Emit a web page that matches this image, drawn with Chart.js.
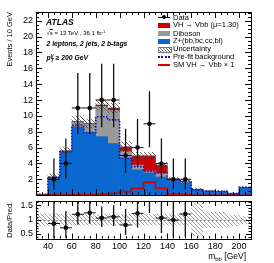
<!DOCTYPE html>
<html>
<head>
<meta charset="utf-8">
<script src="https://cdn.jsdelivr.net/npm/chart.js@4.4.1/dist/chart.umd.min.js"></script>
<style>
body { margin: 0; background: #fff; font-family: 'Liberation Sans', Arial, sans-serif; }
#wrap { position: relative; width: 274px; height: 263px; overflow: hidden; }
canvas { position: absolute; left: 0; }
.t { position: absolute; white-space: nowrap; color: #000; line-height: 1; }
.bi { font-weight: bold; font-style: italic; }
.lg { position: absolute; left: 173px; font-size: 7.5px; line-height: 1; white-space: nowrap; color: #000; }
.sym { position: absolute; left: 158px; width: 12px; }
.sub { font-size: 70%; position: relative; top: 0.35em; }
.sup { font-size: 70%; position: relative; top: -0.45em; }
</style>
</head>
<body>
<div id="wrap">
  <canvas id="main" width="274" height="200" style="top:0"></canvas>
  <canvas id="ratio" width="274" height="66" style="top:197px"></canvas>

  <!-- labels in the upper left -->
  <div class="t bi" style="left:46px;top:18px;font-size:8.5px">ATLAS</div>
  <div class="t" style="left:46.5px;top:30px;font-size:6px">√<span style="text-decoration:overline">s</span> = 13 TeV , 36.1 fb<span class="sup">-1</span></div>
  <div class="t bi" style="left:46.5px;top:41px;font-size:6.8px">2 leptons, 2 jets, 2 b-tags</div>
  <div class="t bi" style="left:46.5px;top:55px;font-size:6.8px">p<span class="sub">T</span><span class="sup" style="margin-left:-3px">V</span> ≥ 200 GeV</div>

  <!-- legend -->
  <div class="sym" style="top:17px;height:1px;background:#000"></div>
  <div class="sym" style="top:15.3px;left:162px;width:4px;height:4px;border-radius:50%;background:#000"></div>
  <div class="lg" style="top:13.5px">Data</div>
  <div class="sym" style="top:22.5px;height:5px;background:#cc0000"></div>
  <div class="lg" style="top:21.2px">VH → Vbb (μ=1.30)</div>
  <div class="sym" style="top:30.5px;height:5px;background:#999999"></div>
  <div class="lg" style="top:29.5px">Diboson</div>
  <div class="sym" style="top:38.5px;height:5px;background:#0a68cf"></div>
  <div class="lg" style="top:37.2px">Z+(bb,bc,cc,bl)</div>
  <div class="sym" style="top:46.5px;height:4px;border:0.5px solid #777;background:repeating-linear-gradient(45deg,#fff 0 1.2px,#777 1.2px 2px)"></div>
  <div class="lg" style="top:45.2px">Uncertainty</div>
  <div class="sym" style="top:56px;height:0;border-top:2px dotted #1010c0"></div>
  <div class="lg" style="top:53.2px">Pre-fit background</div>
  <div class="sym" style="top:64px;height:2px;background:#d40000"></div>
  <div class="lg" style="top:61.2px">SM VH → Vbb × 1</div>

  <!-- lowest ratio label, the canvas one does not show at this panel height -->
  <div class="t" style="right:241px;top:228.8px;font-size:9px">0.5</div>

  <div class="t" style="right:28px;top:252px;font-size:8.5px">m<span class="sub">bb</span> [GeV]</div>
</div>

<script>
// bins of 10 GeV from 30 to 210 (centres)
const binCenters = [35, 45, 55, 65, 75, 85, 95, 105, 115, 125, 135, 145, 155, 165, 175, 185, 195, 205];

// post-fit stack, events per bin
const zJets   = [0.1, 2.25, 5.5, 8.6, 7.9, 7.4, 6.5, 4.65, 3.2, 2.8, 2.3, 1.85, 1.55, 0.74, 0.53, 0.5, 0.24, 1.0];
const diboson = [0, 0.05, 0.1, 0.65, 1.1, 3.8, 4.2, 0.85, 0.6, 0.25, 0.45, 0.05, 0.1, 0, 0, 0, 0, 0];
const vhFit   = [0, 0, 0, 0.05, 0.05, 0.15, 0.3, 0.6, 1.15, 1.9, 1.05, 0.15, 0.05, 0, 0, 0, 0, 0];

// overlaid lines
const vhSM   = [0, 0.02, 0.03, 0.05, 0.05, 0.12, 0.25, 0.45, 0.87, 1.62, 0.87, 0.12, 0.05, 0, 0, 0, 0, 0];
const preFit = [0.1, 2.25, 5.5, 8.8, 7.9, 9.9, 9.5, 4.65, 3.6, 3.0, 2.8, 1.95, 1.75, 0.7, 0.5, 0.5, 0.22, 1.0];

// uncertainty band on the total
const uncLow  = [0.05, 1.9, 5.2, 8.6, 8.5, 10.7, 10.4, 5.45, 4.5, 4.5, 3.45, 1.85, 1.5, 0.6, 0.45, 0.42, 0.18, 0.9];
const uncHigh = [0.15, 2.7, 6.0, 10.0, 9.6, 12.0, 11.6, 6.75, 5.4, 5.4, 4.15, 2.25, 1.9, 0.9, 0.62, 0.58, 0.3, 1.1];

// data
const dataX       = [45, 55, 65, 75, 85, 95, 105, 115, 125, 135, 145, 155];
const dataY       = [2, 4, 11, 11, 12, 12, 5, 6, 9, 4, 2, 2];
const dataErrDown = [1.29, 1.91, 3.28, 3.28, 3.44, 3.44, 2.16, 2.38, 2.94, 1.91, 1.29, 1.29];
const dataErrUp   = [2.64, 3.16, 4.40, 4.40, 4.57, 4.57, 3.38, 3.62, 4.11, 3.16, 2.64, 2.64];

// ratio panel
const ratioY    = [0.87, 0.72, 1.19, 1.24, 1.06, 1.1, 0.82, 1.22, 1.82, 1.06, 0.99, 1.2];
const ratioLow  = [0.31, 0.37, 0.83, 0.86, 0.75, 0.78, 0.47, 0.73, 1.23, 0.54, 0.35, 0.42];
const ratioHigh = [2.0, 1.3, 1.66, 1.71, 1.46, 1.5, 1.37, 1.94, 2.6, 1.86, 2.26, 2.7];
const ratioBandLow  = [0.78, 0.78, 0.8, 0.8, 0.8, 0.8, 0.8, 0.8, 0.8, 0.8, 0.8, 0.8, 0.8, 0.43, 0.71, 0.72, 0.78, 0.84];
const ratioBandHigh = [1.22, 1.22, 1.2, 1.2, 1.2, 1.2, 1.2, 1.2, 1.2, 1.2, 1.2, 1.2, 1.2, 1.57, 1.28, 1.28, 1.17, 1.12];

// tick labels
const xTickLabels     = ['40', '60', '80', '100', '120', '140', '160', '180', '200'];
const yTickLabels     = ['2', '4', '6', '8', '10', '12', '14', '16', '18', '20', '22'];
const ratioTickLabels = ['1', '1.5'];   // 0.5 is the html label above

Chart.defaults.font.family = "'Liberation Sans', Arial, sans-serif";
Chart.defaults.color = '#000';

/* diagonal hatch used for the uncertainty bands */
function hatch(color) {
    const c = document.createElement('canvas');
    c.width = 4; c.height = 4;
    const g = c.getContext('2d');
    g.strokeStyle = color;
    g.lineWidth = 0.9;
    g.beginPath();
    g.moveTo(0, 0); g.lineTo(4, 4);
    g.moveTo(-1, 3); g.lineTo(1, 5);
    g.moveTo(3, -1); g.lineTo(5, 1);
    g.stroke();
    return g.createPattern(c, 'repeat');
}

/* left bin edges + closing edge, for step lines */
function stepPoints(values) {
    const pts = binCenters.map((c, i) => ({x: c - 5, y: values[i]}));
    pts.push({x: binCenters[binCenters.length - 1] + 5, y: values[values.length - 1]});
    return pts;
}

/* ticks: exactly the listed labels */
const fixedTicks = labels => scale => { scale.ticks = labels.map(l => ({value: Number(l)})); };
const labelOnly = labels => v => labels.includes(String(v)) ? String(v) : '';

/* fixed axis sizes, no extra room for overhanging labels */
const fixedWidth = scale => {
    scale.width = 36;
    scale.paddingTop = 0; scale.paddingBottom = 0;
};
const fixedHeight = h => scale => {
    scale.height = h;
    scale.paddingLeft = 0; scale.paddingRight = 0;
};

/* frame with inward ticks on all four sides, ROOT style */
const frameTicks = {
    id: 'frameTicks',
    beforeDatasetsDraw(chart, args, o) {
        if (o.refLine === undefined) return;
        const {ctx, chartArea: a} = chart;
        const py = Math.round(chart.scales.y.getPixelForValue(o.refLine)) + 0.5;
        ctx.save();
        ctx.strokeStyle = '#999';
        ctx.setLineDash([2, 2]);
        ctx.beginPath(); ctx.moveTo(a.left, py); ctx.lineTo(a.right, py); ctx.stroke();
        ctx.restore();
    },
    afterDraw(chart, args, o) {
        const {ctx, chartArea: a} = chart;
        const xs = chart.scales.x, ys = chart.scales.y;
        const marks = (step, min, max) => {
            const out = [];
            const k0 = Math.ceil(min / step - 1e-6);
            for (let k = k0; k * step <= max + 1e-6; k++) out.push(k * step);
            return out;
        };
        ctx.save();
        ctx.strokeStyle = '#000';
        ctx.lineWidth = 1;
        ctx.beginPath();
        [[o.xMinor, o.minorLen], [o.xMajor, o.majorLen]].forEach(([st, len]) => {
            marks(st, xs.min, xs.max).forEach(v => {
                const px = Math.round(xs.getPixelForValue(v)) + 0.5;
                ctx.moveTo(px, a.bottom); ctx.lineTo(px, a.bottom - len);
                ctx.moveTo(px, a.top); ctx.lineTo(px, a.top + len);
            });
        });
        [[o.yMinor, o.minorLen], [o.yMajor, o.majorLen]].forEach(([st, len]) => {
            marks(st, ys.min, ys.max).forEach(v => {
                const py = Math.round(ys.getPixelForValue(v)) + 0.5;
                ctx.moveTo(a.left, py); ctx.lineTo(a.left + len, py);
                ctx.moveTo(a.right, py); ctx.lineTo(a.right - len, py);
            });
        });
        ctx.stroke();
        ctx.strokeRect(Math.round(a.left) + 0.5, Math.round(a.top) + 0.5,
                       Math.round(a.right - a.left), Math.round(a.bottom - a.top));
        ctx.restore();
    }
};

/* data error bars (vertical from lo to hi, horizontal over the bin) */
const errBars = {
    id: 'errBars',
    afterDatasetsDraw(chart, args, o) {
        if (!o.lo) return;
        const {ctx, chartArea: a} = chart;
        const xs = chart.scales.x, ys = chart.scales.y;
        ctx.save();
        ctx.beginPath();
        ctx.rect(a.left, a.top, a.right - a.left, a.bottom - a.top);
        ctx.clip();
        ctx.strokeStyle = '#111';
        o.x.forEach((x, i) => {
            const px = xs.getPixelForValue(x);
            ctx.lineWidth = 1.3;
            ctx.beginPath();
            ctx.moveTo(px, ys.getPixelForValue(o.lo[i]));
            ctx.lineTo(px, ys.getPixelForValue(o.hi[i]));
            ctx.stroke();
            const py = ys.getPixelForValue(o.y[i]);
            ctx.lineWidth = 1;
            ctx.beginPath();
            ctx.moveTo(xs.getPixelForValue(x - 5), py);
            ctx.lineTo(xs.getPixelForValue(x + 5), py);
            ctx.stroke();
        });
        ctx.restore();
    }
};

/* main panel */
new Chart(document.getElementById('main'), {
    type: 'bar',
    data: {
        datasets: [
            {type: 'scatter', data: dataX.map((x, i) => ({x, y: dataY[i]})), order: 0,
             pointRadius: 2.3, pointBackgroundColor: '#000', pointBorderWidth: 0, clip: 0},
            {type: 'line', data: stepPoints(vhSM), stack: 'sm', stepped: true, order: 1,
             borderColor: '#d40000', borderWidth: 1.6, pointRadius: 0, fill: false},
            {type: 'line', data: stepPoints(preFit), stack: 'prefit', stepped: true, order: 1,
             borderColor: '#1010c0', borderWidth: 1.6, borderDash: [1.5, 1.5], pointRadius: 0, fill: false},
            {data: binCenters.map((x, i) => ({x, y: [uncLow[i], uncHigh[i]]})), stack: 'unc', grouped: false, order: 2,
             backgroundColor: hatch('rgba(70,70,70,0.85)'), borderWidth: 0},
            {data: binCenters.map((x, i) => ({x, y: zJets[i]})), stack: 'mc', order: 3, backgroundColor: '#0a68cf', borderWidth: 0},
            {data: binCenters.map((x, i) => ({x, y: diboson[i]})), stack: 'mc', order: 3, backgroundColor: '#999999', borderWidth: 0},
            {data: binCenters.map((x, i) => ({x, y: vhFit[i]})), stack: 'mc', order: 3, backgroundColor: '#cc0000', borderWidth: 0}
        ]
    },
    options: {
        responsive: false,
        devicePixelRatio: 1,
        animation: false,
        layout: {padding: {top: 12, right: 23, bottom: 4.8, left: 0}},
        datasets: {bar: {barPercentage: 1, categoryPercentage: 1}},
        scales: {
            x: {type: 'linear', min: 30, max: 210, offset: false, stacked: true, display: false},
            y: {
                min: 0, max: 23.1, stacked: true,
                afterFit: fixedWidth,
                afterBuildTicks: fixedTicks(yTickLabels),
                grid: {display: false, drawTicks: false},
                border: {display: false},
                ticks: {padding: 3, autoSkip: false, font: {size: 9}, callback: labelOnly(yTickLabels)},
                title: {display: true, text: 'Events / 10 GeV', align: 'end', font: {size: 7.5}, padding: {top: 5, bottom: 0}}
            }
        },
        plugins: {
            legend: {display: false},
            tooltip: {enabled: false},
            frameTicks: {xMajor: 20, xMinor: 5, yMajor: 2, yMinor: 0.5, majorLen: 6, minorLen: 3},
            errBars: {
                x: dataX, y: dataY,
                lo: dataY.map((v, i) => v - dataErrDown[i]),
                hi: dataY.map((v, i) => v + dataErrUp[i])
            }
        }
    },
    plugins: [frameTicks, errBars]
});

/* ratio panel: band filled between two stepped edges */
new Chart(document.getElementById('ratio'), {
    type: 'line',
    data: {
        datasets: [
            {type: 'scatter', data: dataX.map((x, i) => ({x, y: ratioY[i]})), order: 0,
             pointRadius: 2.3, pointBackgroundColor: '#000', pointBorderWidth: 0, clip: 0},
            {data: stepPoints(ratioBandLow), stepped: true, order: 1,
             borderWidth: 0, pointRadius: 0, fill: false},
            {data: stepPoints(ratioBandHigh), stepped: true, order: 1,
             borderWidth: 0, pointRadius: 0, fill: '-1', backgroundColor: hatch('rgba(120,120,120,0.8)')}
        ]
    },
    options: {
        responsive: false,
        devicePixelRatio: 1,
        animation: false,
        layout: {padding: {top: 2.5, right: 23, bottom: 0, left: 0}},
        scales: {
            x: {
                type: 'linear', min: 30, max: 210, offset: false,
                afterFit: fixedHeight(24.5),
                afterBuildTicks: fixedTicks(xTickLabels),
                grid: {display: false, drawTicks: false},
                border: {display: false},
                ticks: {padding: 3, autoSkip: false, maxRotation: 0, font: {size: 9}, callback: labelOnly(xTickLabels)}
            },
            y: {
                min: 0.35, max: 1.65,
                afterFit: fixedWidth,
                afterBuildTicks: fixedTicks(ratioTickLabels),
                grid: {display: false, drawTicks: false},
                border: {display: false},
                ticks: {padding: 3, autoSkip: false, font: {size: 9}, callback: labelOnly(ratioTickLabels)},
                title: {display: true, text: 'Data/Pred.', font: {size: 7.5}, padding: {top: 5, bottom: 0}}
            }
        },
        plugins: {
            legend: {display: false},
            tooltip: {enabled: false},
            frameTicks: {xMajor: 20, xMinor: 5, yMajor: 0.5, yMinor: 0.1, majorLen: 5, minorLen: 2.5, refLine: 1},
            errBars: {x: dataX, y: ratioY, lo: ratioLow, hi: ratioHigh}
        }
    },
    plugins: [frameTicks, errBars]
});
</script>
</body>
</html>
